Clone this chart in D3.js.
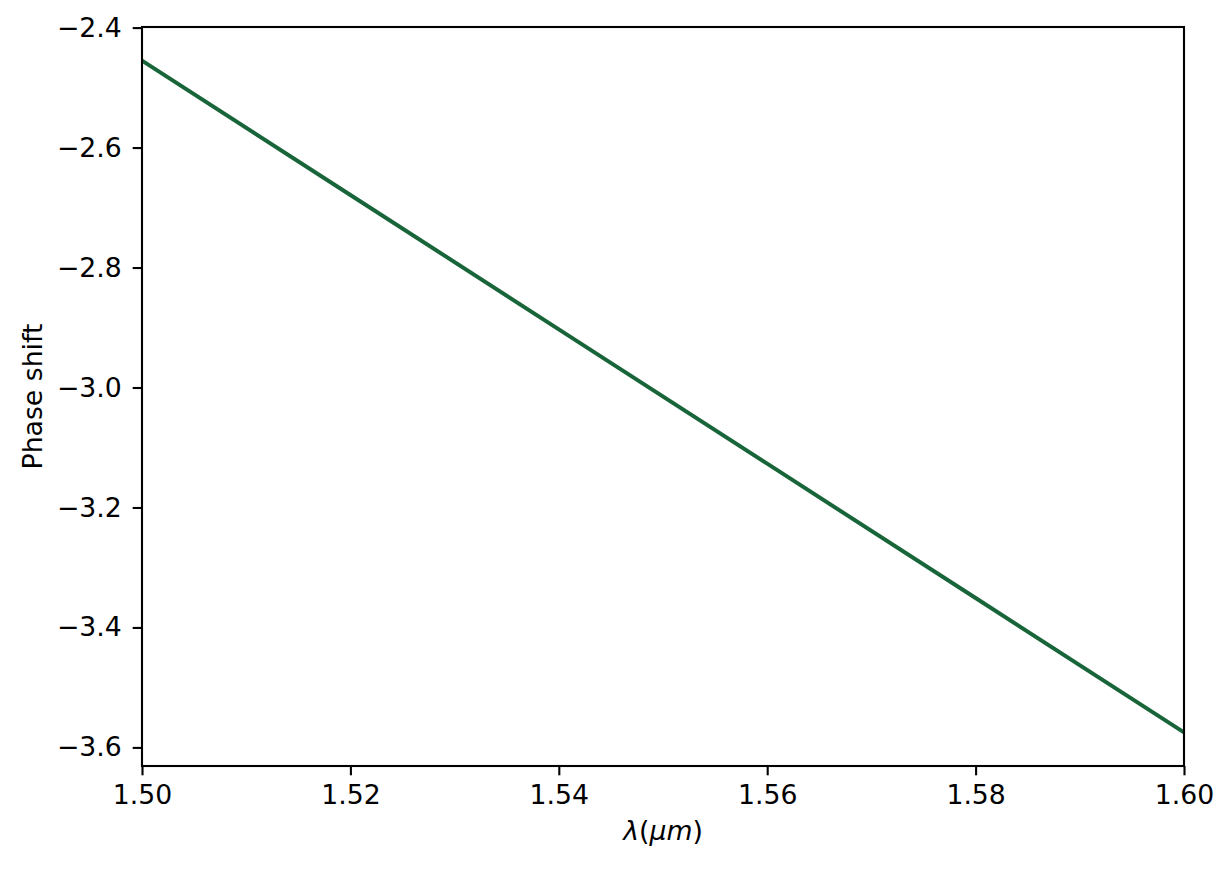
<!DOCTYPE html>
<html>
<head>
<meta charset="utf-8">
<script src="https://cdn.jsdelivr.net/npm/d3@7"></script>
<style>
  body { margin: 0; background: #fff; }
  text { font-family: "DejaVu Sans", sans-serif; }
</style>
</head>
<body>
<svg id="chart"></svg>
<script>
// wavelength (um) and phase shift
const wavelength = [1.50, 1.52, 1.54, 1.56, 1.58, 1.60];
const phaseShift = [-2.455, -2.679, -2.903, -3.127, -3.351, -3.575];
const xTicks = [1.50, 1.52, 1.54, 1.56, 1.58, 1.60];
const yTicks = [-2.4, -2.6, -2.8, -3.0, -3.2, -3.4, -3.6];

const width = 1232, height = 869;
const margin = { top: 27, right: 48, bottom: 103, left: 142 };
const innerW = width - margin.left - margin.right;
const innerH = height - margin.top - margin.bottom;
const fontSize = '26.7px';

const svg = d3.select('#chart')
    .attr('width', width)
    .attr('height', height);

const chart = svg.append('g')
    .attr('transform', `translate(${margin.left}, ${margin.top})`);

// 5% padding like matplotlib on y
const span = d3.max(phaseShift) - d3.min(phaseShift);
const xscale = d3.scaleLinear().domain([1.50, 1.60]).range([0, innerW]);
const yscale = d3.scaleLinear()
    .domain([d3.min(phaseShift) - span * 0.05, d3.max(phaseShift) + span * 0.05])
    .range([innerH, 0]);

const fmtMinus = f => v => f(v).replace('-', '\u2212');

const xaxis = d3.axisBottom(xscale)
    .tickValues(xTicks)
    .tickFormat(d3.format('.2f'))
    .tickSizeOuter(0)
    .tickSize(9.3)
    .tickPadding(9.5);

const yaxis = d3.axisLeft(yscale)
    .tickValues(yTicks)
    .tickFormat(fmtMinus(d3.format('.1f')))
    .tickSizeOuter(0)
    .tickSize(9.3)
    .tickPadding(11);

const xg = chart.append('g')
    .attr('transform', `translate(0, ${innerH})`)
    .call(xaxis);
const yg = chart.append('g').call(yaxis);

[xg, yg].forEach(g => {
    g.select('.domain').remove();
    g.selectAll('line').attr('stroke', '#000').attr('stroke-width', 2.1);
    g.selectAll('text')
        .attr('fill', '#000')
        .style('font-size', fontSize)
        .style('font-family', '"DejaVu Sans", sans-serif');
});

// the line
const line = d3.line()
    .x((d, i) => xscale(wavelength[i]))
    .y(d => yscale(d));

chart.append('path')
    .datum(phaseShift)
    .attr('fill', 'none')
    .attr('stroke', '#19653a')
    .attr('stroke-width', 4)
    .attr('d', line);

// frame
chart.append('rect')
    .attr('width', innerW)
    .attr('height', innerH)
    .attr('fill', 'none')
    .attr('stroke', '#000')
    .attr('stroke-width', 2.1);

// labels
svg.append('text')
    .attr('x', margin.left + innerW / 2)
    .attr('y', 840)
    .attr('text-anchor', 'middle')
    .style('font-size', fontSize)
    .html('<tspan font-style="italic">λ</tspan>(<tspan font-style="italic">μm</tspan>)');

svg.append('text')
    .attr('transform', `translate(42, ${margin.top + innerH / 2}) rotate(-90)`)
    .attr('text-anchor', 'middle')
    .style('font-size', fontSize)
    .text('Phase shift');
</script>
</body>
</html>
